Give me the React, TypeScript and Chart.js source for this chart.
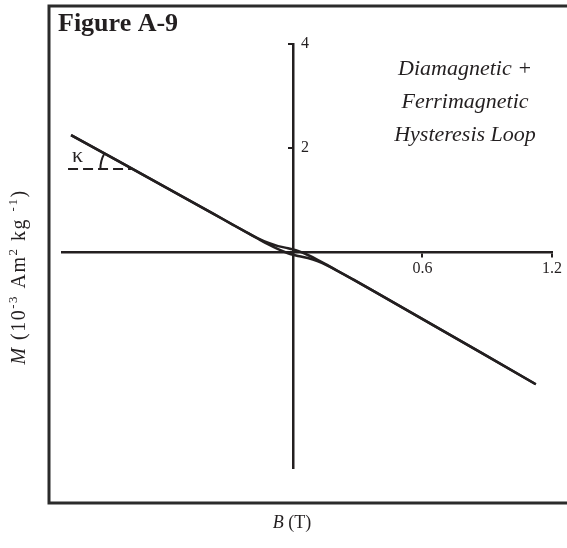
import { useEffect, useRef } from "react";
import { Chart, registerables } from "chart.js";

Chart.register(...registerables);

// Descending branch of the loop: field B (T) going from +B to -B, magnetisation M (10^-3 Am^2/kg)
const descendingB = [1.125, 0.37, 0.278, 0.208, 0.162, 0.116, 0.069, 0.023, 0, -0.023, -0.069, -0.116, -0.162, -0.208, -0.278, -0.37, -1.028];
const descendingM = [-2.54, -0.74, -0.525, -0.363, -0.256, -0.152, -0.056, 0.023, 0.052, 0.075, 0.115, 0.179, 0.265, 0.365, 0.525, 0.74, 2.25];

// Ascending branch: field going from -B back to +B
const ascendingB = [-1.028, -0.37, -0.278, -0.208, -0.162, -0.116, -0.069, -0.023, 0, 0.023, 0.069, 0.116, 0.162, 0.208, 0.278, 0.37, 1.125];
const ascendingM = [2.25, 0.74, 0.525, 0.363, 0.256, 0.152, 0.056, -0.023, -0.052, -0.075, -0.115, -0.179, -0.265, -0.365, -0.525, -0.74, -2.54];

// Horizontal reference used to mark the slope angle kappa
const kappaB = [-1.042, -0.744];
const kappaM = [1.596, 1.596];

// Axis ticks and limits
const xTicks = [0.6, 1.2];
const yTicks = [2, 4];
const X_MIN = -1.07;
const X_MAX = 1.2;
const Y_MIN = -4.15;
const Y_MAX = 4;

const INK = "#231f20";
const SERIF = '"Liberation Serif", "Times New Roman", serif';

const titleText = "Figure A-9";
const noteLines = ["Diamagnetic +", "Ferrimagnetic", "Hysteresis Loop"];
const xTitle = [
  { t: "B", italic: true },
  { t: " (T)", italic: false },
];
const yTitle = [
  { t: "M", italic: true, sup: false },
  { t: " (10", italic: false, sup: false },
  { t: "-3", italic: false, sup: true },
  { t: " Am", italic: false, sup: false },
  { t: "2", italic: false, sup: true },
  { t: " kg ", italic: false, sup: false },
  { t: "-1", italic: false, sup: true },
  { t: ")", italic: false, sup: false },
];

type Seg = { t: string; italic?: boolean; sup?: boolean };

function drawRich(
  ctx: CanvasRenderingContext2D,
  segs: Seg[],
  cx: number,
  baseline: number,
  size: number,
  spacing = 0
) {
  const supSize = Math.round(size * 0.65);
  const fontOf = (s: Seg) => `${s.italic ? "italic " : ""}${s.sup ? supSize : size}px ${SERIF}`;
  const anyCtx = ctx as any;
  anyCtx.letterSpacing = `${spacing}px`;
  let total = 0;
  for (const s of segs) {
    ctx.font = fontOf(s);
    total += ctx.measureText(s.t).width;
  }
  let x = cx - total / 2;
  ctx.textAlign = "left";
  ctx.textBaseline = "alphabetic";
  for (const s of segs) {
    ctx.font = fontOf(s);
    ctx.fillText(s.t, x, s.sup ? baseline - size * 0.38 : baseline);
    x += ctx.measureText(s.t).width;
  }
  anyCtx.letterSpacing = "0px";
}

const decorPlugin = {
  id: "decor",
  afterDraw(chart: any) {
    const ctx: CanvasRenderingContext2D = chart.ctx;
    const xs = chart.scales.x;
    const ys = chart.scales.y;
    ctx.save();

    // open frame (left, top, bottom)
    ctx.strokeStyle = "#2b2b2b";
    ctx.lineWidth = 3;
    ctx.beginPath();
    ctx.moveTo(chart.width + 2, 6);
    ctx.lineTo(49, 6);
    ctx.lineTo(49, 503);
    ctx.lineTo(chart.width + 2, 503);
    ctx.stroke();

    ctx.fillStyle = INK;

    // figure label
    ctx.font = `bold 26px ${SERIF}`;
    ctx.textAlign = "left";
    ctx.textBaseline = "alphabetic";
    ctx.fillText(titleText, 58, 31);

    // y tick labels, to the right of the vertical axis
    const axisX = xs.getPixelForValue(0);
    ctx.font = `16px ${SERIF}`;
    ctx.textAlign = "left";
    ctx.textBaseline = "middle";
    for (const t of ys.ticks) {
      ctx.fillText(String(t.value), axisX + 8, ys.getPixelForValue(t.value));
    }

    // italic note
    ctx.textBaseline = "alphabetic";
    ctx.font = `italic 22px ${SERIF}`;
    ctx.textAlign = "center";
    noteLines.forEach((line, i) => ctx.fillText(line, 465, 75 + i * 33));

    // kappa angle marker
    const ix = xs.getPixelForValue(kappaB[1]);
    const iy = ys.getPixelForValue(kappaM[1]);
    const lx = xs.getPixelForValue(descendingB[descendingB.length - 1]);
    const ly = ys.getPixelForValue(descendingM[descendingM.length - 1]);
    const ang = Math.atan2(ly - iy, lx - ix);
    ctx.strokeStyle = INK;
    ctx.lineWidth = 2;
    ctx.beginPath();
    ctx.arc(ix, iy, 32, Math.PI, ang + 2 * Math.PI);
    ctx.stroke();
    ctx.font = `22px ${SERIF}`;
    ctx.textAlign = "left";
    ctx.fillText("κ", xs.getPixelForValue(kappaB[0]) + 4, iy - 7);

    // axis titles
    drawRich(ctx, xTitle, 292, 528, 18);
    ctx.translate(25, 277);
    ctx.rotate(-Math.PI / 2);
    drawRich(ctx, yTitle, 0, 0, 20, 1.5);

    ctx.restore();
  },
};

export default function App() {
  const ref = useRef<HTMLCanvasElement>(null);

  useEffect(() => {
    const canvas = ref.current;
    if (!canvas) return;
    const lineStyle = {
      showLine: true,
      borderColor: INK,
      backgroundColor: INK,
      borderWidth: 2.5,
      pointRadius: 0,
      cubicInterpolationMode: "monotone" as const,
    };
    const chart = new Chart(canvas, {
      type: "scatter",
      data: {
        datasets: [
          { ...lineStyle, data: descendingB.map((b, i) => ({ x: b, y: descendingM[i] })) },
          { ...lineStyle, data: ascendingB.map((b, i) => ({ x: b, y: ascendingM[i] })) },
          {
            showLine: true,
            borderColor: INK,
            borderWidth: 2,
            borderDash: [10, 5],
            pointRadius: 0,
            data: kappaB.map((b, i) => ({ x: b, y: kappaM[i] })),
          },
        ],
      },
      options: {
        responsive: false,
        animation: false,
        layout: { padding: { left: 62, right: 15, top: 44, bottom: 80 } },
        plugins: { legend: { display: false }, tooltip: { enabled: false } },
        scales: {
          x: {
            type: "linear",
            min: X_MIN,
            max: X_MAX,
            position: { y: 0 } as any,
            afterBuildTicks: (s: any) => {
              s.ticks = xTicks.map((v) => ({ value: v }));
            },
            ticks: {
              color: INK,
              font: { family: SERIF, size: 16 },
              padding: 3,
              maxRotation: 0,
              autoSkip: false,
              callback: (v: any) => String(v),
            },
            grid: { drawOnChartArea: false, drawTicks: true, tickLength: 4, color: INK, lineWidth: 2 },
            border: { color: INK, width: 2.5 },
          },
          y: {
            type: "linear",
            min: Y_MIN,
            max: Y_MAX,
            position: { x: 0 } as any,
            afterBuildTicks: (s: any) => {
              s.ticks = yTicks.map((v) => ({ value: v }));
            },
            ticks: { display: false },
            grid: { drawOnChartArea: false, drawTicks: true, tickLength: 4, color: INK, lineWidth: 2 },
            border: { color: INK, width: 2.5 },
          },
        },
      },
      plugins: [decorPlugin],
    } as any);
    return () => chart.destroy();
  }, []);

  return (
    <div style={{ position: "fixed", left: 0, top: 0, width: 567, height: 548, background: "#fff" }}>
      <canvas ref={ref} width={567} height={548} style={{ width: 567, height: 548, display: "block" }} />
    </div>
  );
}
